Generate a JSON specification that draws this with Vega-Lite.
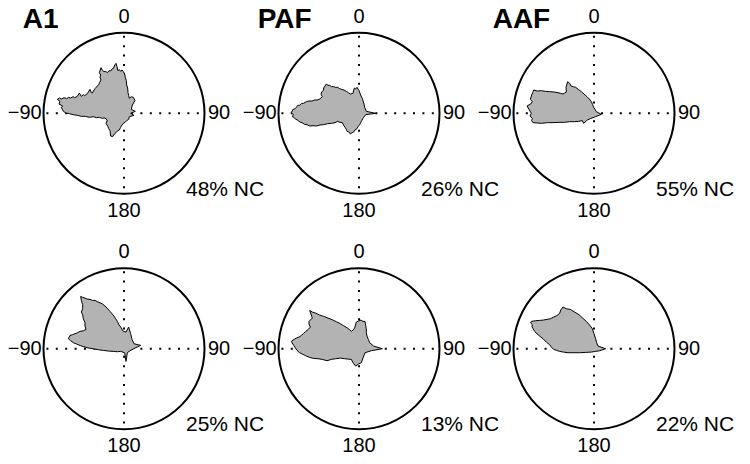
{
"$schema":"https://vega.github.io/schema/vega-lite/v6.json",
"padding":0,
"bounds":"flush",
"background":"white",
"config":{"view":{"stroke":null},"font":"Liberation Sans"},
"data":{"values":[
{"p":"p1","k":"c","nc":"48% NC","title":"A1"},
{"p":"p2","k":"c","nc":"26% NC","title":"PAF"},
{"p":"p3","k":"c","nc":"55% NC","title":"AAF"},
{"p":"p4","k":"c","nc":"25% NC","title":""},
{"p":"p5","k":"c","nc":"13% NC","title":""},
{"p":"p6","k":"c","nc":"22% NC","title":""},
{"p":"p1","k":"s","i":0,"x":-200,"y":42},{"p":"p1","k":"s","i":1,"x":-193,"y":46},{"p":"p1","k":"s","i":2,"x":-187,"y":43},{"p":"p1","k":"s","i":3,"x":-180,"y":47},{"p":"p1","k":"s","i":4,"x":-172,"y":44},{"p":"p1","k":"s","i":5,"x":-166,"y":48},{"p":"p1","k":"s","i":6,"x":-160,"y":46},{"p":"p1","k":"s","i":7,"x":-153,"y":50},{"p":"p1","k":"s","i":8,"x":-148,"y":47},{"p":"p1","k":"s","i":9,"x":-140,"y":51},{"p":"p1","k":"s","i":10,"x":-134,"y":61},{"p":"p1","k":"s","i":11,"x":-128,"y":51},{"p":"p1","k":"s","i":12,"x":-122,"y":56},{"p":"p1","k":"s","i":13,"x":-118,"y":53},{"p":"p1","k":"s","i":14,"x":-110,"y":59},{"p":"p1","k":"s","i":15,"x":-102,"y":72},{"p":"p1","k":"s","i":16,"x":-98,"y":62},{"p":"p1","k":"s","i":17,"x":-95,"y":61},{"p":"p1","k":"s","i":18,"x":-90,"y":70},{"p":"p1","k":"s","i":19,"x":-87,"y":74},{"p":"p1","k":"s","i":20,"x":-80,"y":82},{"p":"p1","k":"s","i":21,"x":-76,"y":86},{"p":"p1","k":"s","i":22,"x":-73,"y":93},{"p":"p1","k":"s","i":23,"x":-69,"y":100},{"p":"p1","k":"s","i":24,"x":-72,"y":108},{"p":"p1","k":"s","i":25,"x":-70,"y":115},{"p":"p1","k":"s","i":26,"x":-74,"y":122},{"p":"p1","k":"s","i":27,"x":-69,"y":137},{"p":"p1","k":"s","i":28,"x":-64,"y":128},{"p":"p1","k":"s","i":29,"x":-60,"y":125},{"p":"p1","k":"s","i":30,"x":-55,"y":126},{"p":"p1","k":"s","i":31,"x":-50,"y":122},{"p":"p1","k":"s","i":32,"x":-45,"y":128},{"p":"p1","k":"s","i":33,"x":-40,"y":127},{"p":"p1","k":"s","i":34,"x":-36,"y":133},{"p":"p1","k":"s","i":35,"x":-32,"y":135},{"p":"p1","k":"s","i":36,"x":-27,"y":146},{"p":"p1","k":"s","i":37,"x":-24,"y":150},{"p":"p1","k":"s","i":38,"x":-21,"y":140},{"p":"p1","k":"s","i":39,"x":-18,"y":128},{"p":"p1","k":"s","i":40,"x":-14,"y":131},{"p":"p1","k":"s","i":41,"x":-10,"y":126},{"p":"p1","k":"s","i":42,"x":-6,"y":130},{"p":"p1","k":"s","i":43,"x":-2,"y":125},{"p":"p1","k":"s","i":44,"x":2,"y":118},{"p":"p1","k":"s","i":45,"x":4,"y":108},{"p":"p1","k":"s","i":46,"x":7,"y":98},{"p":"p1","k":"s","i":47,"x":8,"y":85},{"p":"p1","k":"s","i":48,"x":11,"y":76},{"p":"p1","k":"s","i":49,"x":12,"y":62},{"p":"p1","k":"s","i":50,"x":14,"y":54},{"p":"p1","k":"s","i":51,"x":16,"y":45},{"p":"p1","k":"s","i":52,"x":22,"y":50},{"p":"p1","k":"s","i":53,"x":28,"y":48},{"p":"p1","k":"s","i":54,"x":33,"y":38},{"p":"p1","k":"s","i":55,"x":25,"y":25},{"p":"p1","k":"s","i":56,"x":22,"y":12},{"p":"p1","k":"s","i":57,"x":34,"y":6},{"p":"p1","k":"s","i":58,"x":20,"y":0},{"p":"p1","k":"s","i":59,"x":30,"y":-6},{"p":"p1","k":"s","i":60,"x":16,"y":-10},{"p":"p1","k":"s","i":61,"x":14,"y":-18},{"p":"p1","k":"s","i":62,"x":8,"y":-22},{"p":"p1","k":"s","i":63,"x":4,"y":-26},{"p":"p1","k":"s","i":64,"x":-2,"y":-30},{"p":"p1","k":"s","i":65,"x":-6,"y":-35},{"p":"p1","k":"s","i":66,"x":-10,"y":-42},{"p":"p1","k":"s","i":67,"x":-14,"y":-50},{"p":"p1","k":"s","i":68,"x":-20,"y":-53},{"p":"p1","k":"s","i":69,"x":-24,"y":-58},{"p":"p1","k":"s","i":70,"x":-29,"y":-62},{"p":"p1","k":"s","i":71,"x":-34,"y":-70},{"p":"p1","k":"s","i":72,"x":-40,"y":-68},{"p":"p1","k":"s","i":73,"x":-42,"y":-52},{"p":"p1","k":"s","i":74,"x":-46,"y":-46},{"p":"p1","k":"s","i":75,"x":-48,"y":-40},{"p":"p1","k":"s","i":76,"x":-54,"y":-30},{"p":"p1","k":"s","i":77,"x":-50,"y":-20},{"p":"p1","k":"s","i":78,"x":-57,"y":-14},{"p":"p1","k":"s","i":79,"x":-65,"y":-15},{"p":"p1","k":"s","i":80,"x":-74,"y":-12},{"p":"p1","k":"s","i":81,"x":-83,"y":-13},{"p":"p1","k":"s","i":82,"x":-92,"y":-10},{"p":"p1","k":"s","i":83,"x":-104,"y":-12},{"p":"p1","k":"s","i":84,"x":-116,"y":-9},{"p":"p1","k":"s","i":85,"x":-128,"y":-9},{"p":"p1","k":"s","i":86,"x":-140,"y":-6},{"p":"p1","k":"s","i":87,"x":-152,"y":-4},{"p":"p1","k":"s","i":88,"x":-164,"y":-1},{"p":"p1","k":"s","i":89,"x":-174,"y":1},{"p":"p1","k":"s","i":90,"x":-182,"y":6},{"p":"p1","k":"s","i":91,"x":-188,"y":18},{"p":"p1","k":"s","i":92,"x":-184,"y":22},{"p":"p1","k":"s","i":93,"x":-195,"y":28},{"p":"p1","k":"s","i":94,"x":-192,"y":36},{"p":"p1","k":"s","i":95,"x":-200,"y":42},
{"p":"p2","k":"s","i":0,"x":-203,"y":2},{"p":"p2","k":"s","i":1,"x":-198,"y":12},{"p":"p2","k":"s","i":2,"x":-193,"y":13},{"p":"p2","k":"s","i":3,"x":-188,"y":18},{"p":"p2","k":"s","i":4,"x":-184,"y":24},{"p":"p2","k":"s","i":5,"x":-178,"y":24},{"p":"p2","k":"s","i":6,"x":-172,"y":30},{"p":"p2","k":"s","i":7,"x":-166,"y":30},{"p":"p2","k":"s","i":8,"x":-158,"y":35},{"p":"p2","k":"s","i":9,"x":-150,"y":37},{"p":"p2","k":"s","i":10,"x":-141,"y":37},{"p":"p2","k":"s","i":11,"x":-133,"y":40},{"p":"p2","k":"s","i":12,"x":-126,"y":40},{"p":"p2","k":"s","i":13,"x":-118,"y":43},{"p":"p2","k":"s","i":14,"x":-110,"y":50},{"p":"p2","k":"s","i":15,"x":-114,"y":57},{"p":"p2","k":"s","i":16,"x":-112,"y":64},{"p":"p2","k":"s","i":17,"x":-106,"y":70},{"p":"p2","k":"s","i":18,"x":-106,"y":76},{"p":"p2","k":"s","i":19,"x":-98,"y":88},{"p":"p2","k":"s","i":20,"x":-93,"y":84},{"p":"p2","k":"s","i":21,"x":-88,"y":84},{"p":"p2","k":"s","i":22,"x":-82,"y":80},{"p":"p2","k":"s","i":23,"x":-76,"y":80},{"p":"p2","k":"s","i":24,"x":-70,"y":78},{"p":"p2","k":"s","i":25,"x":-64,"y":78},{"p":"p2","k":"s","i":26,"x":-58,"y":74},{"p":"p2","k":"s","i":27,"x":-52,"y":72},{"p":"p2","k":"s","i":28,"x":-45,"y":70},{"p":"p2","k":"s","i":29,"x":-38,"y":66},{"p":"p2","k":"s","i":30,"x":-32,"y":62},{"p":"p2","k":"s","i":31,"x":-26,"y":58},{"p":"p2","k":"s","i":32,"x":-18,"y":60},{"p":"p2","k":"s","i":33,"x":-14,"y":76},{"p":"p2","k":"s","i":34,"x":-10,"y":73},{"p":"p2","k":"s","i":35,"x":-6,"y":78},{"p":"p2","k":"s","i":36,"x":0,"y":68},{"p":"p2","k":"s","i":37,"x":3,"y":60},{"p":"p2","k":"s","i":38,"x":6,"y":52},{"p":"p2","k":"s","i":39,"x":10,"y":45},{"p":"p2","k":"s","i":40,"x":12,"y":38},{"p":"p2","k":"s","i":41,"x":15,"y":28},{"p":"p2","k":"s","i":42,"x":17,"y":18},{"p":"p2","k":"s","i":43,"x":22,"y":6},{"p":"p2","k":"s","i":44,"x":50,"y":0},{"p":"p2","k":"s","i":45,"x":20,"y":-4},{"p":"p2","k":"s","i":46,"x":14,"y":-12},{"p":"p2","k":"s","i":47,"x":8,"y":-22},{"p":"p2","k":"s","i":48,"x":5,"y":-28},{"p":"p2","k":"s","i":49,"x":2,"y":-34},{"p":"p2","k":"s","i":50,"x":-3,"y":-40},{"p":"p2","k":"s","i":51,"x":-6,"y":-46},{"p":"p2","k":"s","i":52,"x":-12,"y":-50},{"p":"p2","k":"s","i":53,"x":-16,"y":-56},{"p":"p2","k":"s","i":54,"x":-21,"y":-58},{"p":"p2","k":"s","i":55,"x":-26,"y":-62},{"p":"p2","k":"s","i":56,"x":-30,"y":-56},{"p":"p2","k":"s","i":57,"x":-36,"y":-54},{"p":"p2","k":"s","i":58,"x":-38,"y":-48},{"p":"p2","k":"s","i":59,"x":-42,"y":-42},{"p":"p2","k":"s","i":60,"x":-46,"y":-36},{"p":"p2","k":"s","i":61,"x":-50,"y":-28},{"p":"p2","k":"s","i":62,"x":-57,"y":-27},{"p":"p2","k":"s","i":63,"x":-64,"y":-24},{"p":"p2","k":"s","i":64,"x":-72,"y":-28},{"p":"p2","k":"s","i":65,"x":-82,"y":-30},{"p":"p2","k":"s","i":66,"x":-94,"y":-31},{"p":"p2","k":"s","i":67,"x":-106,"y":-34},{"p":"p2","k":"s","i":68,"x":-117,"y":-35},{"p":"p2","k":"s","i":69,"x":-128,"y":-38},{"p":"p2","k":"s","i":70,"x":-138,"y":-37},{"p":"p2","k":"s","i":71,"x":-148,"y":-38},{"p":"p2","k":"s","i":72,"x":-156,"y":-34},{"p":"p2","k":"s","i":73,"x":-163,"y":-33},{"p":"p2","k":"s","i":74,"x":-171,"y":-28},{"p":"p2","k":"s","i":75,"x":-178,"y":-26},{"p":"p2","k":"s","i":76,"x":-184,"y":-20},{"p":"p2","k":"s","i":77,"x":-190,"y":-18},{"p":"p2","k":"s","i":78,"x":-195,"y":-12},{"p":"p2","k":"s","i":79,"x":-200,"y":-10},{"p":"p2","k":"s","i":80,"x":-197,"y":-4},{"p":"p2","k":"s","i":81,"x":-203,"y":2},
{"p":"p3","k":"s","i":0,"x":-188,"y":0},{"p":"p3","k":"s","i":1,"x":-201,"y":22},{"p":"p3","k":"s","i":2,"x":-190,"y":28},{"p":"p3","k":"s","i":3,"x":-185,"y":35},{"p":"p3","k":"s","i":4,"x":-191,"y":42},{"p":"p3","k":"s","i":5,"x":-187,"y":55},{"p":"p3","k":"s","i":6,"x":-184,"y":62},{"p":"p3","k":"s","i":7,"x":-181,"y":70},{"p":"p3","k":"s","i":8,"x":-170,"y":67},{"p":"p3","k":"s","i":9,"x":-158,"y":68},{"p":"p3","k":"s","i":10,"x":-146,"y":66},{"p":"p3","k":"s","i":11,"x":-133,"y":65},{"p":"p3","k":"s","i":12,"x":-120,"y":64},{"p":"p3","k":"s","i":13,"x":-108,"y":62},{"p":"p3","k":"s","i":14,"x":-100,"y":60},{"p":"p3","k":"s","i":15,"x":-93,"y":58},{"p":"p3","k":"s","i":16,"x":-83,"y":64},{"p":"p3","k":"s","i":17,"x":-84,"y":78},{"p":"p3","k":"s","i":18,"x":-79,"y":95},{"p":"p3","k":"s","i":19,"x":-73,"y":90},{"p":"p3","k":"s","i":20,"x":-69,"y":82},{"p":"p3","k":"s","i":21,"x":-62,"y":80},{"p":"p3","k":"s","i":22,"x":-55,"y":78},{"p":"p3","k":"s","i":23,"x":-47,"y":72},{"p":"p3","k":"s","i":24,"x":-38,"y":65},{"p":"p3","k":"s","i":25,"x":-30,"y":58},{"p":"p3","k":"s","i":26,"x":-21,"y":50},{"p":"p3","k":"s","i":27,"x":-14,"y":43},{"p":"p3","k":"s","i":28,"x":-8,"y":35},{"p":"p3","k":"s","i":29,"x":-4,"y":26},{"p":"p3","k":"s","i":30,"x":-1,"y":18},{"p":"p3","k":"s","i":31,"x":3,"y":12},{"p":"p3","k":"s","i":32,"x":7,"y":5},{"p":"p3","k":"s","i":33,"x":22,"y":-3},{"p":"p3","k":"s","i":34,"x":5,"y":-10},{"p":"p3","k":"s","i":35,"x":-3,"y":-13},{"p":"p3","k":"s","i":36,"x":-11,"y":-16},{"p":"p3","k":"s","i":37,"x":-20,"y":-20},{"p":"p3","k":"s","i":38,"x":-31,"y":-30},{"p":"p3","k":"s","i":39,"x":-35,"y":-22},{"p":"p3","k":"s","i":40,"x":-46,"y":-24},{"p":"p3","k":"s","i":41,"x":-58,"y":-25},{"p":"p3","k":"s","i":42,"x":-73,"y":-25},{"p":"p3","k":"s","i":43,"x":-88,"y":-27},{"p":"p3","k":"s","i":44,"x":-105,"y":-27},{"p":"p3","k":"s","i":45,"x":-123,"y":-28},{"p":"p3","k":"s","i":46,"x":-140,"y":-28},{"p":"p3","k":"s","i":47,"x":-158,"y":-30},{"p":"p3","k":"s","i":48,"x":-170,"y":-29},{"p":"p3","k":"s","i":49,"x":-183,"y":-28},{"p":"p3","k":"s","i":50,"x":-187,"y":-22},{"p":"p3","k":"s","i":51,"x":-185,"y":-15},{"p":"p3","k":"s","i":52,"x":-192,"y":-8},{"p":"p3","k":"s","i":53,"x":-188,"y":0},
{"p":"p4","k":"s","i":0,"x":-167,"y":30},{"p":"p4","k":"s","i":1,"x":-162,"y":40},{"p":"p4","k":"s","i":2,"x":-155,"y":42},{"p":"p4","k":"s","i":3,"x":-147,"y":45},{"p":"p4","k":"s","i":4,"x":-140,"y":48},{"p":"p4","k":"s","i":5,"x":-132,"y":52},{"p":"p4","k":"s","i":6,"x":-122,"y":54},{"p":"p4","k":"s","i":7,"x":-114,"y":58},{"p":"p4","k":"s","i":8,"x":-117,"y":68},{"p":"p4","k":"s","i":9,"x":-117,"y":78},{"p":"p4","k":"s","i":10,"x":-122,"y":90},{"p":"p4","k":"s","i":11,"x":-124,"y":102},{"p":"p4","k":"s","i":12,"x":-128,"y":110},{"p":"p4","k":"s","i":13,"x":-124,"y":120},{"p":"p4","k":"s","i":14,"x":-124,"y":132},{"p":"p4","k":"s","i":15,"x":-128,"y":145},{"p":"p4","k":"s","i":16,"x":-130,"y":157},{"p":"p4","k":"s","i":17,"x":-124,"y":154},{"p":"p4","k":"s","i":18,"x":-117,"y":152},{"p":"p4","k":"s","i":19,"x":-110,"y":149},{"p":"p4","k":"s","i":20,"x":-102,"y":148},{"p":"p4","k":"s","i":21,"x":-94,"y":145},{"p":"p4","k":"s","i":22,"x":-87,"y":145},{"p":"p4","k":"s","i":23,"x":-80,"y":141},{"p":"p4","k":"s","i":24,"x":-72,"y":138},{"p":"p4","k":"s","i":25,"x":-64,"y":134},{"p":"p4","k":"s","i":26,"x":-57,"y":128},{"p":"p4","k":"s","i":27,"x":-50,"y":121},{"p":"p4","k":"s","i":28,"x":-42,"y":112},{"p":"p4","k":"s","i":29,"x":-36,"y":105},{"p":"p4","k":"s","i":30,"x":-30,"y":98},{"p":"p4","k":"s","i":31,"x":-25,"y":90},{"p":"p4","k":"s","i":32,"x":-20,"y":82},{"p":"p4","k":"s","i":33,"x":-15,"y":72},{"p":"p4","k":"s","i":34,"x":-10,"y":65},{"p":"p4","k":"s","i":35,"x":-2,"y":52},{"p":"p4","k":"s","i":36,"x":6,"y":50},{"p":"p4","k":"s","i":37,"x":14,"y":65},{"p":"p4","k":"s","i":38,"x":20,"y":45},{"p":"p4","k":"s","i":39,"x":24,"y":28},{"p":"p4","k":"s","i":40,"x":30,"y":15},{"p":"p4","k":"s","i":41,"x":50,"y":10},{"p":"p4","k":"s","i":42,"x":33,"y":2},{"p":"p4","k":"s","i":43,"x":18,"y":-6},{"p":"p4","k":"s","i":44,"x":10,"y":-12},{"p":"p4","k":"s","i":45,"x":6,"y":-38},{"p":"p4","k":"s","i":46,"x":2,"y":-12},{"p":"p4","k":"s","i":47,"x":-10,"y":-8},{"p":"p4","k":"s","i":48,"x":-20,"y":-9},{"p":"p4","k":"s","i":49,"x":-32,"y":-8},{"p":"p4","k":"s","i":50,"x":-46,"y":-7},{"p":"p4","k":"s","i":51,"x":-62,"y":-5},{"p":"p4","k":"s","i":52,"x":-77,"y":-3},{"p":"p4","k":"s","i":53,"x":-92,"y":0},{"p":"p4","k":"s","i":54,"x":-105,"y":2},{"p":"p4","k":"s","i":55,"x":-117,"y":5},{"p":"p4","k":"s","i":56,"x":-130,"y":9},{"p":"p4","k":"s","i":57,"x":-142,"y":14},{"p":"p4","k":"s","i":58,"x":-152,"y":18},{"p":"p4","k":"s","i":59,"x":-160,"y":24},{"p":"p4","k":"s","i":60,"x":-167,"y":30},
{"p":"p5","k":"s","i":0,"x":-203,"y":22},{"p":"p5","k":"s","i":1,"x":-195,"y":28},{"p":"p5","k":"s","i":2,"x":-188,"y":32},{"p":"p5","k":"s","i":3,"x":-180,"y":35},{"p":"p5","k":"s","i":4,"x":-173,"y":40},{"p":"p5","k":"s","i":5,"x":-166,"y":46},{"p":"p5","k":"s","i":6,"x":-160,"y":52},{"p":"p5","k":"s","i":7,"x":-152,"y":58},{"p":"p5","k":"s","i":8,"x":-146,"y":65},{"p":"p5","k":"s","i":9,"x":-150,"y":74},{"p":"p5","k":"s","i":10,"x":-150,"y":82},{"p":"p5","k":"s","i":11,"x":-140,"y":92},{"p":"p5","k":"s","i":12,"x":-144,"y":104},{"p":"p5","k":"s","i":13,"x":-148,"y":115},{"p":"p5","k":"s","i":14,"x":-140,"y":110},{"p":"p5","k":"s","i":15,"x":-130,"y":107},{"p":"p5","k":"s","i":16,"x":-118,"y":101},{"p":"p5","k":"s","i":17,"x":-106,"y":97},{"p":"p5","k":"s","i":18,"x":-93,"y":92},{"p":"p5","k":"s","i":19,"x":-80,"y":87},{"p":"p5","k":"s","i":20,"x":-68,"y":81},{"p":"p5","k":"s","i":21,"x":-56,"y":75},{"p":"p5","k":"s","i":22,"x":-46,"y":69},{"p":"p5","k":"s","i":23,"x":-36,"y":63},{"p":"p5","k":"s","i":24,"x":-22,"y":52},{"p":"p5","k":"s","i":25,"x":-13,"y":62},{"p":"p5","k":"s","i":26,"x":-8,"y":80},{"p":"p5","k":"s","i":27,"x":0,"y":84},{"p":"p5","k":"s","i":28,"x":6,"y":86},{"p":"p5","k":"s","i":29,"x":12,"y":82},{"p":"p5","k":"s","i":30,"x":18,"y":82},{"p":"p5","k":"s","i":31,"x":20,"y":70},{"p":"p5","k":"s","i":32,"x":22,"y":60},{"p":"p5","k":"s","i":33,"x":22,"y":48},{"p":"p5","k":"s","i":34,"x":24,"y":38},{"p":"p5","k":"s","i":35,"x":28,"y":28},{"p":"p5","k":"s","i":36,"x":32,"y":18},{"p":"p5","k":"s","i":37,"x":44,"y":8},{"p":"p5","k":"s","i":38,"x":70,"y":0},{"p":"p5","k":"s","i":39,"x":37,"y":-6},{"p":"p5","k":"s","i":40,"x":18,"y":-12},{"p":"p5","k":"s","i":41,"x":12,"y":-28},{"p":"p5","k":"s","i":42,"x":7,"y":-42},{"p":"p5","k":"s","i":43,"x":-2,"y":-46},{"p":"p5","k":"s","i":44,"x":-10,"y":-52},{"p":"p5","k":"s","i":45,"x":-18,"y":-42},{"p":"p5","k":"s","i":46,"x":-23,"y":-32},{"p":"p5","k":"s","i":47,"x":-33,"y":-31},{"p":"p5","k":"s","i":48,"x":-43,"y":-30},{"p":"p5","k":"s","i":49,"x":-56,"y":-28},{"p":"p5","k":"s","i":50,"x":-70,"y":-30},{"p":"p5","k":"s","i":51,"x":-83,"y":-32},{"p":"p5","k":"s","i":52,"x":-96,"y":-36},{"p":"p5","k":"s","i":53,"x":-110,"y":-32},{"p":"p5","k":"s","i":54,"x":-123,"y":-30},{"p":"p5","k":"s","i":55,"x":-136,"y":-29},{"p":"p5","k":"s","i":56,"x":-148,"y":-26},{"p":"p5","k":"s","i":57,"x":-160,"y":-21},{"p":"p5","k":"s","i":58,"x":-170,"y":-16},{"p":"p5","k":"s","i":59,"x":-178,"y":-12},{"p":"p5","k":"s","i":60,"x":-186,"y":-5},{"p":"p5","k":"s","i":61,"x":-196,"y":10},{"p":"p5","k":"s","i":62,"x":-203,"y":22},
{"p":"p6","k":"s","i":0,"x":-188,"y":82},{"p":"p6","k":"s","i":1,"x":-176,"y":84},{"p":"p6","k":"s","i":2,"x":-163,"y":85},{"p":"p6","k":"s","i":3,"x":-152,"y":86},{"p":"p6","k":"s","i":4,"x":-141,"y":88},{"p":"p6","k":"s","i":5,"x":-131,"y":90},{"p":"p6","k":"s","i":6,"x":-121,"y":95},{"p":"p6","k":"s","i":7,"x":-112,"y":99},{"p":"p6","k":"s","i":8,"x":-103,"y":106},{"p":"p6","k":"s","i":9,"x":-100,"y":116},{"p":"p6","k":"s","i":10,"x":-93,"y":125},{"p":"p6","k":"s","i":11,"x":-83,"y":120},{"p":"p6","k":"s","i":12,"x":-71,"y":118},{"p":"p6","k":"s","i":13,"x":-58,"y":110},{"p":"p6","k":"s","i":14,"x":-45,"y":102},{"p":"p6","k":"s","i":15,"x":-34,"y":92},{"p":"p6","k":"s","i":16,"x":-23,"y":82},{"p":"p6","k":"s","i":17,"x":-13,"y":71},{"p":"p6","k":"s","i":18,"x":-5,"y":60},{"p":"p6","k":"s","i":19,"x":0,"y":45},{"p":"p6","k":"s","i":20,"x":5,"y":30},{"p":"p6","k":"s","i":21,"x":8,"y":18},{"p":"p6","k":"s","i":22,"x":12,"y":8},{"p":"p6","k":"s","i":23,"x":35,"y":0},{"p":"p6","k":"s","i":24,"x":17,"y":-6},{"p":"p6","k":"s","i":25,"x":5,"y":-8},{"p":"p6","k":"s","i":26,"x":-8,"y":-10},{"p":"p6","k":"s","i":27,"x":-25,"y":-11},{"p":"p6","k":"s","i":28,"x":-43,"y":-12},{"p":"p6","k":"s","i":29,"x":-60,"y":-12},{"p":"p6","k":"s","i":30,"x":-78,"y":-12},{"p":"p6","k":"s","i":31,"x":-92,"y":-10},{"p":"p6","k":"s","i":32,"x":-103,"y":-8},{"p":"p6","k":"s","i":33,"x":-112,"y":-5},{"p":"p6","k":"s","i":34,"x":-121,"y":-2},{"p":"p6","k":"s","i":35,"x":-128,"y":5},{"p":"p6","k":"s","i":36,"x":-133,"y":12},{"p":"p6","k":"s","i":37,"x":-143,"y":20},{"p":"p6","k":"s","i":38,"x":-153,"y":30},{"p":"p6","k":"s","i":39,"x":-162,"y":37},{"p":"p6","k":"s","i":40,"x":-171,"y":45},{"p":"p6","k":"s","i":41,"x":-178,"y":52},{"p":"p6","k":"s","i":42,"x":-183,"y":60},{"p":"p6","k":"s","i":43,"x":-186,"y":66},{"p":"p6","k":"s","i":44,"x":-185,"y":72},{"p":"p6","k":"s","i":45,"x":-190,"y":77},{"p":"p6","k":"s","i":46,"x":-188,"y":82}
]},
"transform":[{"lookup":"p","from":{"data":{"values":[{"p":"p1","r":1,"c":1},{"p":"p2","r":1,"c":2},{"p":"p3","r":1,"c":3},{"p":"p4","r":2,"c":1},{"p":"p5","r":2,"c":2},{"p":"p6","r":2,"c":3}]},"key":"p","fields":["r","c"]}}],
"facet":{"row":{"field":"r","type":"ordinal","header":null},"column":{"field":"c","type":"ordinal","header":null}},
"spacing":{"row":7.4,"column":0},
"spec":{
"width":235,"height":228,
"layer":[
{"transform":[{"filter":"datum.k==='c'"}],
 "mark":{"type":"rule","color":"black","strokeWidth":2,"strokeDash":[2,7.4],"strokeDashOffset":6},
 "encoding":{"x":{"datum":-243,"type":"quantitative","scale":{"domain":[-372,333],"nice":false,"zero":false},"axis":null},"x2":{"datum":243},"y":{"datum":0,"type":"quantitative","scale":{"domain":[-344,340],"nice":false,"zero":false},"axis":null}}},
{"transform":[{"filter":"datum.k==='c'"}],
 "mark":{"type":"rule","color":"black","strokeWidth":2,"strokeDash":[2,7.4],"strokeDashOffset":6},
 "encoding":{"x":{"datum":0,"type":"quantitative","scale":{"domain":[-372,333],"nice":false,"zero":false},"axis":null},"y":{"datum":243,"type":"quantitative","scale":{"domain":[-344,340],"nice":false,"zero":false},"axis":null},"y2":{"datum":-243}}},
{"transform":[{"filter":"datum.k==='s'"}],
 "mark":{"type":"line","fill":"#b3b3b3","stroke":"black","strokeWidth":1,"strokeJoin":"miter"},
 "encoding":{"x":{"field":"x","type":"quantitative","scale":{"domain":[-372,333],"nice":false,"zero":false},"axis":null},"y":{"field":"y","type":"quantitative","scale":{"domain":[-344,340],"nice":false,"zero":false},"axis":null},"order":{"field":"i","type":"quantitative"}}},
{"transform":[{"filter":"datum.k==='c'"}],
 "mark":{"type":"point","shape":"circle","filled":false,"size":25921,"stroke":"black","strokeWidth":2,"opacity":1},
 "encoding":{"x":{"datum":0,"type":"quantitative","scale":{"domain":[-372,333],"nice":false,"zero":false},"axis":null},"y":{"datum":0,"type":"quantitative","scale":{"domain":[-344,340],"nice":false,"zero":false},"axis":null}}},
{"transform":[{"filter":"datum.k==='c'"}],
 "mark":{"type":"text","text":"0","fontSize":20,"align":"center","baseline":"middle","color":"black"},
 "encoding":{"x":{"datum":0,"type":"quantitative"},"y":{"datum":290,"type":"quantitative"}}},
{"transform":[{"filter":"datum.k==='c'"}],
 "mark":{"type":"text","text":"180","fontSize":20,"align":"center","baseline":"middle","color":"black"},
 "encoding":{"x":{"datum":0,"type":"quantitative"},"y":{"datum":-293,"type":"quantitative"}}},
{"transform":[{"filter":"datum.k==='c'"}],
 "mark":{"type":"text","text":"90","fontSize":20,"align":"left","baseline":"middle","color":"black"},
 "encoding":{"x":{"datum":252,"type":"quantitative"},"y":{"datum":0,"type":"quantitative"}}},
{"transform":[{"filter":"datum.k==='c'"}],
 "mark":{"type":"text","text":"−90","fontSize":20,"align":"right","baseline":"middle","color":"black"},
 "encoding":{"x":{"datum":-247,"type":"quantitative"},"y":{"datum":0,"type":"quantitative"}}},
{"transform":[{"filter":"datum.k==='c'"}],
 "mark":{"type":"text","fontSize":21,"align":"left","baseline":"middle","color":"black"},
 "encoding":{"text":{"field":"nc"},"x":{"datum":186,"type":"quantitative"},"y":{"datum":-230,"type":"quantitative"}}},
{"transform":[{"filter":"datum.k==='c'"}],
 "mark":{"type":"text","fontSize":28,"fontWeight":"bold","align":"left","baseline":"middle","color":"black"},
 "encoding":{"text":{"field":"title"},"x":{"datum":-304,"type":"quantitative"},"y":{"datum":280,"type":"quantitative"}}}
]}
}
